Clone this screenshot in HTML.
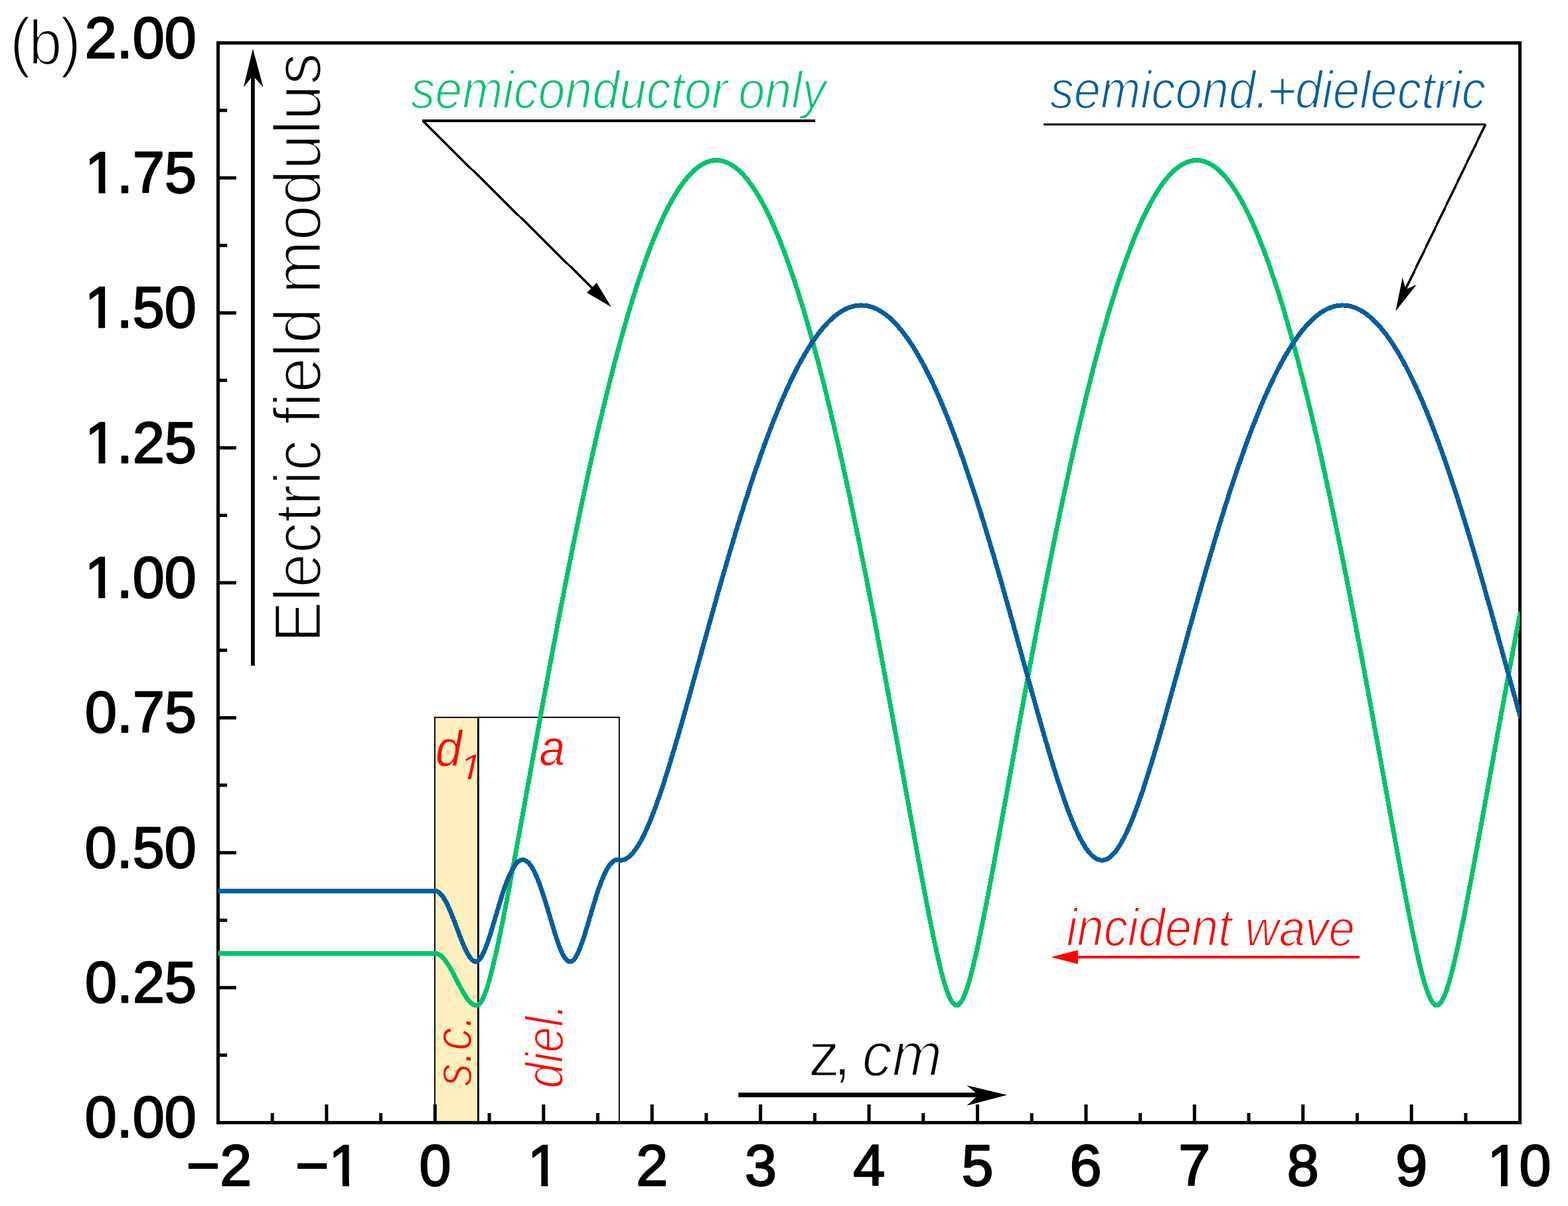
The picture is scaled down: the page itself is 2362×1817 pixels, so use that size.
<!DOCTYPE html>
<html lang="en"><head><meta charset="utf-8"><title>Electric field modulus</title>
<style>
html,body{margin:0;padding:0;background:#fff;overflow:hidden;}
body{width:2362px;height:1817px;overflow:hidden;}
svg{display:block;}
text{font-family:"Liberation Sans",sans-serif;}
</style></head><body>
<svg width="2362" height="1817" viewBox="0 0 2362 1817">
<rect x="0" y="0" width="2362" height="1817" fill="#ffffff"/>
<rect x="655" y="1080.8" width="65.4" height="610.6" fill="#ffefbe" stroke="#000" stroke-width="1.9"/>
<g><text transform="translate(655.9,1153.78) scale(0.9314,1)" font-size="76.8" fill="#ff0000" stroke="#ffefbe" stroke-width="1" stroke-linejoin="round" paint-order="fill stroke" font-style="italic">d</text><clipPath id="cd1"><path d="M-78.34,-4.36 L235.03,-4.36 L235.03,-78.34 L-78.34,-78.34ZM9.99,4 L14.72,4 L16.35,-4.36 L11.62,-4.36ZM27.16,15.67 L235.03,15.67 L235.03,-4.36 L27.16,-4.36Z"/></clipPath><text transform="translate(692.45,1173.55) scale(1.1221,1)" font-size="53.48" fill="#ff0000" stroke="#ffefbe" stroke-width="0.7" stroke-linejoin="round" paint-order="fill stroke" font-style="italic" clip-path="url(#cd1)">1</text></g>
<g><text transform="translate(710,1636.75) rotate(-90) scale(0.8781,1)" font-size="78.92" fill="#ff0000" stroke="#ffefbe" stroke-width="2.05" stroke-linejoin="round" paint-order="fill stroke" font-style="italic">s.c.</text></g>
<g fill="none" stroke="#000">
<path stroke-width="1.9" d="M720.4,1080.8 H932.8 V1691.4"/>
<path stroke-width="2.8" d="M720.4,1079.85 V1691.4"/>
</g>
<g stroke="#000" stroke-width="5" fill="none">
<path d="M410.21,1691.4 v-14.4 M491.92,1691.4 v-27.3 M573.64,1691.4 v-14.4 M655.35,1691.4 v-27.3 M737.06,1691.4 v-14.4 M818.77,1691.4 v-27.3 M900.49,1691.4 v-14.4 M982.2,1691.4 v-27.3 M1063.91,1691.4 v-14.4 M1145.62,1691.4 v-27.3 M1227.34,1691.4 v-14.4 M1309.05,1691.4 v-27.3 M1390.76,1691.4 v-14.4 M1472.47,1691.4 v-27.3 M1554.19,1691.4 v-14.4 M1635.9,1691.4 v-27.3 M1717.61,1691.4 v-14.4 M1799.32,1691.4 v-27.3 M1881.04,1691.4 v-14.4 M1962.75,1691.4 v-27.3 M2044.46,1691.4 v-14.4 M2126.18,1691.4 v-27.3 M2207.89,1691.4 v-14.4 M328.5,1589.73 h13.6 M328.5,1488.06 h27.3 M328.5,1386.39 h13.6 M328.5,1284.73 h27.3 M328.5,1183.06 h13.6 M328.5,1081.39 h27.3 M328.5,979.72 h13.6 M328.5,878.05 h27.3 M328.5,776.38 h13.6 M328.5,674.71 h27.3 M328.5,573.04 h13.6 M328.5,471.38 h27.3 M328.5,369.71 h13.6 M328.5,268.04 h27.3 M328.5,166.37 h13.6"/>
<rect x="328.5" y="64.7" width="1961.1" height="1626.7" stroke-width="5"/>
</g>
<clipPath id="plot"><rect x="328.5" y="64.7" width="1961.1" height="1626.7"/></clipPath>
<g fill="none" stroke-linejoin="round" stroke-linecap="square" stroke-width="7" shape-rendering="crispEdges" clip-path="url(#plot)">
<path stroke="#00c46b" d="M328.50,1436.50 L329.90,1436.50 L331.30,1436.50 L332.70,1436.50 L334.10,1436.50 L335.50,1436.50 L336.90,1436.50 L338.31,1436.50 L339.71,1436.50 L341.11,1436.50 L342.51,1436.50 L343.91,1436.50 L345.31,1436.50 L346.71,1436.50 L348.11,1436.50 L349.51,1436.50 L350.91,1436.50 L352.31,1436.50 L353.71,1436.50 L355.11,1436.50 L356.52,1436.50 L357.92,1436.50 L359.32,1436.50 L360.72,1436.50 L362.12,1436.50 L363.52,1436.50 L364.92,1436.50 L366.32,1436.50 L367.72,1436.50 L369.12,1436.50 L370.52,1436.50 L371.92,1436.50 L373.33,1436.50 L374.73,1436.50 L376.13,1436.50 L377.53,1436.50 L378.93,1436.50 L380.33,1436.50 L381.73,1436.50 L383.13,1436.50 L384.53,1436.50 L385.93,1436.50 L387.33,1436.50 L388.73,1436.50 L390.13,1436.50 L391.54,1436.50 L392.94,1436.50 L394.34,1436.50 L395.74,1436.50 L397.14,1436.50 L398.54,1436.50 L399.94,1436.50 L401.34,1436.50 L402.74,1436.50 L404.14,1436.50 L405.54,1436.50 L406.94,1436.50 L408.34,1436.50 L409.75,1436.50 L411.15,1436.50 L412.55,1436.50 L413.95,1436.50 L415.35,1436.50 L416.75,1436.50 L418.15,1436.50 L419.55,1436.50 L420.95,1436.50 L422.35,1436.50 L423.75,1436.50 L425.15,1436.50 L426.56,1436.50 L427.96,1436.50 L429.36,1436.50 L430.76,1436.50 L432.16,1436.50 L433.56,1436.50 L434.96,1436.50 L436.36,1436.50 L437.76,1436.50 L439.16,1436.50 L440.56,1436.50 L441.96,1436.50 L443.36,1436.50 L444.77,1436.50 L446.17,1436.50 L447.57,1436.50 L448.97,1436.50 L450.37,1436.50 L451.77,1436.50 L453.17,1436.50 L454.57,1436.50 L455.97,1436.50 L457.37,1436.50 L458.77,1436.50 L460.17,1436.50 L461.57,1436.50 L462.98,1436.50 L464.38,1436.50 L465.78,1436.50 L467.18,1436.50 L468.58,1436.50 L469.98,1436.50 L471.38,1436.50 L472.78,1436.50 L474.18,1436.50 L475.58,1436.50 L476.98,1436.50 L478.38,1436.50 L479.78,1436.50 L481.19,1436.50 L482.59,1436.50 L483.99,1436.50 L485.39,1436.50 L486.79,1436.50 L488.19,1436.50 L489.59,1436.50 L490.99,1436.50 L492.39,1436.50 L493.79,1436.50 L495.19,1436.50 L496.59,1436.50 L498.00,1436.50 L499.40,1436.50 L500.80,1436.50 L502.20,1436.50 L503.60,1436.50 L505.00,1436.50 L506.40,1436.50 L507.80,1436.50 L509.20,1436.50 L510.60,1436.50 L512.00,1436.50 L513.40,1436.50 L514.80,1436.50 L516.21,1436.50 L517.61,1436.50 L519.01,1436.50 L520.41,1436.50 L521.81,1436.50 L523.21,1436.50 L524.61,1436.50 L526.01,1436.50 L527.41,1436.50 L528.81,1436.50 L530.21,1436.50 L531.61,1436.50 L533.01,1436.50 L534.42,1436.50 L535.82,1436.50 L537.22,1436.50 L538.62,1436.50 L540.02,1436.50 L541.42,1436.50 L542.82,1436.50 L544.22,1436.50 L545.62,1436.50 L547.02,1436.50 L548.42,1436.50 L549.82,1436.50 L551.22,1436.50 L552.63,1436.50 L554.03,1436.50 L555.43,1436.50 L556.83,1436.50 L558.23,1436.50 L559.63,1436.50 L561.03,1436.50 L562.43,1436.50 L563.83,1436.50 L565.23,1436.50 L566.63,1436.50 L568.03,1436.50 L569.44,1436.50 L570.84,1436.50 L572.24,1436.50 L573.64,1436.50 L575.04,1436.50 L576.44,1436.50 L577.84,1436.50 L579.24,1436.50 L580.64,1436.50 L582.04,1436.50 L583.44,1436.50 L584.84,1436.50 L586.24,1436.50 L587.65,1436.50 L589.05,1436.50 L590.45,1436.50 L591.85,1436.50 L593.25,1436.50 L594.65,1436.50 L596.05,1436.50 L597.45,1436.50 L598.85,1436.50 L600.25,1436.50 L601.65,1436.50 L603.05,1436.50 L604.45,1436.50 L605.86,1436.50 L607.26,1436.50 L608.66,1436.50 L610.06,1436.50 L611.46,1436.50 L612.86,1436.50 L614.26,1436.50 L615.66,1436.50 L617.06,1436.50 L618.46,1436.50 L619.86,1436.50 L621.26,1436.50 L622.66,1436.50 L624.07,1436.50 L625.47,1436.50 L626.87,1436.50 L628.27,1436.50 L629.67,1436.50 L631.07,1436.50 L632.47,1436.50 L633.87,1436.50 L635.27,1436.50 L636.67,1436.50 L638.07,1436.50 L639.47,1436.50 L640.88,1436.50 L642.28,1436.50 L643.68,1436.50 L645.08,1436.50 L646.48,1436.50 L647.88,1436.50 L649.28,1436.50 L650.68,1436.50 L652.08,1436.50 L653.48,1436.50 L654.88,1436.50 L655.35,1436.50 L656.28,1436.54 L657.68,1436.75 L659.09,1437.14 L660.49,1437.72 L661.89,1438.47 L663.29,1439.40 L664.69,1440.49 L666.09,1441.75 L667.49,1443.17 L668.89,1444.74 L670.29,1446.46 L671.69,1448.32 L673.09,1450.31 L674.49,1452.41 L675.89,1454.64 L677.30,1456.96 L678.70,1459.37 L680.10,1461.86 L681.50,1464.43 L682.90,1467.05 L684.30,1469.71 L685.70,1472.41 L687.10,1475.13 L688.50,1477.86 L689.90,1480.58 L691.30,1483.29 L692.70,1485.96 L694.11,1488.59 L695.51,1491.17 L696.91,1493.67 L698.31,1496.10 L699.71,1498.43 L701.11,1500.65 L702.51,1502.75 L703.91,1504.73 L705.31,1506.56 L706.71,1508.23 L708.11,1509.74 L709.51,1511.06 L710.91,1512.19 L712.32,1513.12 L713.72,1513.82 L715.12,1514.27 L716.31,1514.42 L716.52,1514.44 L717.92,1514.57 L719.32,1514.26 L720.72,1513.52 L722.12,1512.35 L723.52,1510.77 L724.92,1508.78 L726.32,1506.39 L727.72,1503.63 L729.12,1500.52 L730.53,1497.05 L731.93,1493.27 L733.33,1489.17 L734.73,1484.80 L736.13,1480.15 L737.53,1475.25 L738.93,1470.12 L740.33,1464.77 L741.73,1459.23 L743.13,1453.49 L744.53,1447.59 L745.93,1441.52 L747.33,1435.31 L748.74,1428.97 L750.14,1422.49 L751.54,1415.91 L752.94,1409.22 L754.34,1402.42 L755.74,1395.54 L757.14,1388.58 L758.54,1381.54 L759.94,1374.43 L761.34,1367.25 L762.74,1360.02 L764.14,1352.73 L765.55,1345.39 L766.95,1338.00 L768.35,1330.58 L769.75,1323.11 L771.15,1315.61 L772.55,1308.08 L773.95,1300.51 L775.35,1292.93 L776.75,1285.31 L778.15,1277.68 L779.55,1270.03 L780.95,1262.36 L782.35,1254.67 L783.76,1246.98 L785.16,1239.27 L786.56,1231.55 L787.96,1223.82 L789.36,1216.09 L790.76,1208.35 L792.16,1200.61 L793.56,1192.87 L794.96,1185.12 L796.36,1177.38 L797.76,1169.63 L799.16,1161.89 L800.56,1154.15 L801.97,1146.42 L803.37,1138.69 L804.77,1130.97 L806.17,1123.25 L807.57,1115.54 L808.97,1107.84 L810.37,1100.15 L811.77,1092.47 L813.17,1084.80 L814.57,1077.14 L815.97,1069.50 L817.37,1061.86 L818.77,1054.24 L820.18,1046.64 L821.58,1039.05 L822.98,1031.47 L824.38,1023.91 L825.78,1016.37 L827.18,1008.85 L828.58,1001.34 L829.98,993.85 L831.38,986.38 L832.78,978.93 L834.18,971.49 L835.58,964.08 L836.99,956.69 L838.39,949.32 L839.79,941.97 L841.19,934.64 L842.59,927.34 L843.99,920.06 L845.39,912.80 L846.79,905.56 L848.19,898.35 L849.59,891.17 L850.99,884.00 L852.39,876.87 L853.79,869.76 L855.20,862.67 L856.60,855.61 L858.00,848.58 L859.40,841.58 L860.80,834.60 L862.20,827.65 L863.60,820.73 L865.00,813.84 L866.40,806.98 L867.80,800.14 L869.20,793.34 L870.60,786.56 L872.00,779.82 L873.41,773.11 L874.81,766.42 L876.21,759.77 L877.61,753.15 L879.01,746.56 L880.41,740.00 L881.81,733.48 L883.21,726.99 L884.61,720.53 L886.01,714.11 L887.41,707.71 L888.81,701.36 L890.22,695.03 L891.62,688.74 L893.02,682.49 L894.42,676.27 L895.82,670.09 L897.22,663.94 L898.62,657.82 L900.02,651.75 L901.42,645.71 L902.82,639.70 L904.22,633.73 L905.62,627.80 L907.02,621.91 L908.43,616.06 L909.83,610.24 L911.23,604.46 L912.63,598.72 L914.03,593.02 L915.43,587.35 L916.83,581.73 L918.23,576.14 L919.63,570.60 L921.03,565.09 L922.43,559.63 L923.83,554.20 L925.23,548.82 L926.64,543.47 L928.04,538.17 L929.44,532.91 L930.84,527.68 L932.24,522.50 L933.17,519.07 L933.64,517.37 L935.04,512.27 L936.44,507.22 L937.84,502.21 L939.24,497.24 L940.64,492.31 L942.04,487.43 L943.44,482.59 L944.85,477.79 L946.25,473.04 L947.65,468.33 L949.05,463.66 L950.45,459.04 L951.85,454.46 L953.25,449.93 L954.65,445.44 L956.05,441.00 L957.45,436.60 L958.85,432.25 L960.25,427.94 L961.66,423.68 L963.06,419.47 L964.46,415.30 L965.86,411.17 L967.26,407.09 L968.66,403.06 L970.06,399.08 L971.46,395.14 L972.86,391.25 L974.26,387.41 L975.66,383.61 L977.06,379.86 L978.46,376.16 L979.87,372.50 L981.27,368.89 L982.67,365.34 L984.07,361.82 L985.47,358.36 L986.87,354.95 L988.27,351.58 L989.67,348.26 L991.07,345.00 L992.47,341.78 L993.87,338.60 L995.27,335.48 L996.67,332.41 L998.08,329.39 L999.48,326.41 L1000.88,323.49 L1002.28,320.61 L1003.68,317.79 L1005.08,315.02 L1006.48,312.29 L1007.88,309.62 L1009.28,306.99 L1010.68,304.42 L1012.08,301.89 L1013.48,299.42 L1014.89,297.00 L1016.29,294.63 L1017.69,292.30 L1019.09,290.03 L1020.49,287.82 L1021.89,285.65 L1023.29,283.53 L1024.69,281.46 L1026.09,279.45 L1027.49,277.49 L1028.89,275.58 L1030.29,273.72 L1031.69,271.91 L1033.10,270.15 L1034.50,268.45 L1035.90,266.79 L1037.30,265.19 L1038.70,263.64 L1040.10,262.15 L1041.50,260.70 L1042.90,259.31 L1044.30,257.97 L1045.70,256.68 L1047.10,255.44 L1048.50,254.26 L1049.90,253.13 L1051.31,252.05 L1052.71,251.02 L1054.11,250.05 L1055.51,249.12 L1056.91,248.26 L1058.31,247.44 L1059.71,246.68 L1061.11,245.96 L1062.51,245.31 L1063.91,244.70 L1065.31,244.15 L1066.71,243.65 L1068.11,243.20 L1069.52,242.81 L1070.92,242.46 L1072.32,242.17 L1073.72,241.94 L1075.12,241.75 L1076.52,241.62 L1077.92,241.55 L1079.32,241.52 L1080.72,241.55 L1082.12,241.63 L1083.52,241.77 L1084.92,241.95 L1086.33,242.19 L1087.73,242.48 L1089.13,242.83 L1090.53,243.23 L1091.93,243.68 L1093.33,244.18 L1094.73,244.74 L1096.13,245.35 L1097.53,246.01 L1098.93,246.72 L1100.33,247.49 L1101.73,248.31 L1103.13,249.18 L1104.54,250.11 L1105.94,251.09 L1107.34,252.12 L1108.74,253.20 L1110.14,254.34 L1111.54,255.52 L1112.94,256.76 L1114.34,258.05 L1115.74,259.40 L1117.14,260.80 L1118.54,262.24 L1119.94,263.74 L1121.34,265.30 L1122.75,266.90 L1124.15,268.56 L1125.55,270.27 L1126.95,272.03 L1128.35,273.84 L1129.75,275.70 L1131.15,277.62 L1132.55,279.58 L1133.95,281.60 L1135.35,283.67 L1136.75,285.79 L1138.15,287.96 L1139.55,290.18 L1140.96,292.46 L1142.36,294.78 L1143.76,297.16 L1145.16,299.58 L1146.56,302.06 L1147.96,304.59 L1149.36,307.16 L1150.76,309.79 L1152.16,312.47 L1153.56,315.20 L1154.96,317.98 L1156.36,320.80 L1157.77,323.68 L1159.17,326.61 L1160.57,329.59 L1161.97,332.61 L1163.37,335.69 L1164.77,338.81 L1166.17,341.99 L1167.57,345.21 L1168.97,348.48 L1170.37,351.80 L1171.77,355.17 L1173.17,358.59 L1174.57,362.06 L1175.98,365.57 L1177.38,369.13 L1178.78,372.74 L1180.18,376.40 L1181.58,380.11 L1182.98,383.86 L1184.38,387.66 L1185.78,391.51 L1187.18,395.40 L1188.58,399.34 L1189.98,403.33 L1191.38,407.37 L1192.78,411.45 L1194.19,415.57 L1195.59,419.75 L1196.99,423.97 L1198.39,428.23 L1199.79,432.54 L1201.19,436.90 L1202.59,441.30 L1203.99,445.74 L1205.39,450.23 L1206.79,454.77 L1208.19,459.35 L1209.59,463.97 L1210.99,468.64 L1212.40,473.35 L1213.80,478.11 L1215.20,482.91 L1216.60,487.75 L1218.00,492.64 L1219.40,497.57 L1220.80,502.54 L1222.20,507.55 L1223.60,512.61 L1225.00,517.71 L1226.40,522.85 L1227.80,528.03 L1229.21,533.25 L1230.61,538.52 L1232.01,543.83 L1233.41,549.17 L1234.81,554.56 L1236.21,559.99 L1237.61,565.46 L1239.01,570.97 L1240.41,576.52 L1241.81,582.10 L1243.21,587.73 L1244.61,593.40 L1246.01,599.10 L1247.42,604.84 L1248.82,610.63 L1250.22,616.45 L1251.62,622.30 L1253.02,628.20 L1254.42,634.13 L1255.82,640.10 L1257.22,646.11 L1258.62,652.15 L1260.02,658.23 L1261.42,664.35 L1262.82,670.50 L1264.22,676.68 L1265.63,682.90 L1267.03,689.16 L1268.43,695.45 L1269.83,701.78 L1271.23,708.14 L1272.63,714.53 L1274.03,720.96 L1275.43,727.42 L1276.83,733.91 L1278.23,740.44 L1279.63,747.00 L1281.03,753.59 L1282.44,760.21 L1283.84,766.87 L1285.24,773.55 L1286.64,780.27 L1288.04,787.01 L1289.44,793.79 L1290.84,800.60 L1292.24,807.43 L1293.64,814.30 L1295.04,821.19 L1296.44,828.12 L1297.84,835.07 L1299.24,842.05 L1300.65,849.05 L1302.05,856.08 L1303.45,863.14 L1304.85,870.23 L1306.25,877.34 L1307.65,884.48 L1309.05,891.64 L1310.45,898.83 L1311.85,906.04 L1313.25,913.28 L1314.65,920.54 L1316.05,927.82 L1317.45,935.13 L1318.86,942.46 L1320.26,949.81 L1321.66,957.18 L1323.06,964.57 L1324.46,971.99 L1325.86,979.42 L1327.26,986.88 L1328.66,994.35 L1330.06,1001.84 L1331.46,1009.35 L1332.86,1016.87 L1334.26,1024.42 L1335.66,1031.98 L1337.07,1039.55 L1338.47,1047.15 L1339.87,1054.75 L1341.27,1062.37 L1342.67,1070.01 L1344.07,1077.65 L1345.47,1085.31 L1346.87,1092.98 L1348.27,1100.66 L1349.67,1108.35 L1351.07,1116.06 L1352.47,1123.76 L1353.88,1131.48 L1355.28,1139.21 L1356.68,1146.93 L1358.08,1154.67 L1359.48,1162.41 L1360.88,1170.15 L1362.28,1177.89 L1363.68,1185.64 L1365.08,1193.38 L1366.48,1201.13 L1367.88,1208.87 L1369.28,1216.61 L1370.68,1224.34 L1372.09,1232.07 L1373.49,1239.78 L1374.89,1247.49 L1376.29,1255.19 L1377.69,1262.87 L1379.09,1270.54 L1380.49,1278.19 L1381.89,1285.82 L1383.29,1293.43 L1384.69,1301.02 L1386.09,1308.58 L1387.49,1316.11 L1388.89,1323.61 L1390.30,1331.07 L1391.70,1338.50 L1393.10,1345.88 L1394.50,1353.22 L1395.90,1360.50 L1397.30,1367.73 L1398.70,1374.91 L1400.10,1382.01 L1401.50,1389.05 L1402.90,1396.01 L1404.30,1402.88 L1405.70,1409.66 L1407.10,1416.35 L1408.51,1422.93 L1409.91,1429.39 L1411.31,1435.73 L1412.71,1441.93 L1414.11,1447.99 L1415.51,1453.88 L1416.91,1459.60 L1418.31,1465.14 L1419.71,1470.47 L1421.11,1475.58 L1422.51,1480.47 L1423.91,1485.10 L1425.32,1489.46 L1426.72,1493.53 L1428.12,1497.29 L1429.52,1500.73 L1430.92,1503.83 L1432.32,1506.56 L1433.72,1508.92 L1435.12,1510.88 L1436.52,1512.44 L1437.92,1513.58 L1439.32,1514.29 L1440.72,1514.57 L1442.12,1514.42 L1443.53,1513.84 L1444.93,1512.83 L1446.33,1511.39 L1447.73,1509.55 L1449.13,1507.31 L1450.53,1504.69 L1451.93,1501.70 L1453.33,1498.36 L1454.73,1494.69 L1456.13,1490.71 L1457.53,1486.43 L1458.93,1481.88 L1460.33,1477.07 L1461.74,1472.03 L1463.14,1466.76 L1464.54,1461.28 L1465.94,1455.62 L1467.34,1449.77 L1468.74,1443.76 L1470.14,1437.61 L1471.54,1431.31 L1472.94,1424.88 L1474.34,1418.34 L1475.74,1411.68 L1477.14,1404.93 L1478.55,1398.08 L1479.95,1391.14 L1481.35,1384.13 L1482.75,1377.04 L1484.15,1369.89 L1485.55,1362.68 L1486.95,1355.41 L1488.35,1348.09 L1489.75,1340.72 L1491.15,1333.31 L1492.55,1325.85 L1493.95,1318.36 L1495.35,1310.84 L1496.76,1303.29 L1498.16,1295.71 L1499.56,1288.11 L1500.96,1280.48 L1502.36,1272.84 L1503.76,1265.17 L1505.16,1257.49 L1506.56,1249.80 L1507.96,1242.10 L1509.36,1234.38 L1510.76,1226.66 L1512.16,1218.93 L1513.56,1211.19 L1514.97,1203.45 L1516.37,1195.71 L1517.77,1187.96 L1519.17,1180.22 L1520.57,1172.47 L1521.97,1164.73 L1523.37,1156.99 L1524.77,1149.25 L1526.17,1141.52 L1527.57,1133.80 L1528.97,1126.08 L1530.37,1118.37 L1531.77,1110.66 L1533.18,1102.97 L1534.58,1095.29 L1535.98,1087.61 L1537.38,1079.95 L1538.78,1072.30 L1540.18,1064.66 L1541.58,1057.04 L1542.98,1049.43 L1544.38,1041.83 L1545.78,1034.25 L1547.18,1026.68 L1548.58,1019.14 L1549.99,1011.60 L1551.39,1004.09 L1552.79,996.59 L1554.19,989.11 L1555.59,981.66 L1556.99,974.22 L1558.39,966.80 L1559.79,959.40 L1561.19,952.02 L1562.59,944.66 L1563.99,937.33 L1565.39,930.01 L1566.79,922.72 L1568.20,915.46 L1569.60,908.21 L1571.00,900.99 L1572.40,893.80 L1573.80,886.63 L1575.20,879.48 L1576.60,872.36 L1578.00,865.27 L1579.40,858.20 L1580.80,851.16 L1582.20,844.14 L1583.60,837.16 L1585.00,830.20 L1586.41,823.27 L1587.81,816.36 L1589.21,809.49 L1590.61,802.65 L1592.01,795.83 L1593.41,789.04 L1594.81,782.29 L1596.21,775.56 L1597.61,768.87 L1599.01,762.21 L1600.41,755.57 L1601.81,748.97 L1603.21,742.41 L1604.62,735.87 L1606.02,729.37 L1607.42,722.90 L1608.82,716.46 L1610.22,710.05 L1611.62,703.68 L1613.02,697.35 L1614.42,691.05 L1615.82,684.78 L1617.22,678.55 L1618.62,672.35 L1620.02,666.19 L1621.43,660.06 L1622.83,653.97 L1624.23,647.92 L1625.63,641.90 L1627.03,635.92 L1628.43,629.97 L1629.83,624.07 L1631.23,618.20 L1632.63,612.37 L1634.03,606.57 L1635.43,600.82 L1636.83,595.10 L1638.23,589.43 L1639.64,583.79 L1641.04,578.19 L1642.44,572.63 L1643.84,567.11 L1645.24,561.63 L1646.64,556.19 L1648.04,550.79 L1649.44,545.43 L1650.84,540.11 L1652.24,534.83 L1653.64,529.59 L1655.04,524.40 L1656.44,519.25 L1657.85,514.13 L1659.25,509.06 L1660.65,504.04 L1662.05,499.05 L1663.45,494.11 L1664.85,489.21 L1666.25,484.36 L1667.65,479.54 L1669.05,474.78 L1670.45,470.05 L1671.85,465.37 L1673.25,460.73 L1674.66,456.14 L1676.06,451.59 L1677.46,447.08 L1678.86,442.63 L1680.26,438.21 L1681.66,433.84 L1683.06,429.52 L1684.46,425.24 L1685.86,421.01 L1687.26,416.82 L1688.66,412.68 L1690.06,408.58 L1691.46,404.54 L1692.87,400.53 L1694.27,396.58 L1695.67,392.67 L1697.07,388.81 L1698.47,384.99 L1699.87,381.23 L1701.27,377.51 L1702.67,373.84 L1704.07,370.21 L1705.47,366.64 L1706.87,363.11 L1708.27,359.63 L1709.67,356.19 L1711.08,352.81 L1712.48,349.47 L1713.88,346.19 L1715.28,342.95 L1716.68,339.76 L1718.08,336.62 L1719.48,333.53 L1720.88,330.49 L1722.28,327.50 L1723.68,324.56 L1725.08,321.66 L1726.48,318.82 L1727.88,316.03 L1729.29,313.28 L1730.69,310.59 L1732.09,307.95 L1733.49,305.36 L1734.89,302.81 L1736.29,300.32 L1737.69,297.88 L1739.09,295.49 L1740.49,293.15 L1741.89,290.86 L1743.29,288.62 L1744.69,286.44 L1746.10,284.30 L1747.50,282.22 L1748.90,280.18 L1750.30,278.20 L1751.70,276.27 L1753.10,274.39 L1754.50,272.56 L1755.90,270.79 L1757.30,269.07 L1758.70,267.39 L1760.10,265.77 L1761.50,264.20 L1762.90,262.69 L1764.31,261.22 L1765.71,259.81 L1767.11,258.45 L1768.51,257.14 L1769.91,255.89 L1771.31,254.69 L1772.71,253.54 L1774.11,252.44 L1775.51,251.39 L1776.91,250.40 L1778.31,249.46 L1779.71,248.57 L1781.11,247.73 L1782.52,246.95 L1783.92,246.22 L1785.32,245.54 L1786.72,244.92 L1788.12,244.34 L1789.52,243.82 L1790.92,243.36 L1792.32,242.94 L1793.72,242.58 L1795.12,242.27 L1796.52,242.02 L1797.92,241.82 L1799.32,241.67 L1800.73,241.57 L1802.13,241.53 L1803.53,241.53 L1804.93,241.60 L1806.33,241.71 L1807.73,241.88 L1809.13,242.10 L1810.53,242.37 L1811.93,242.70 L1813.33,243.08 L1814.73,243.51 L1816.13,243.99 L1817.54,244.53 L1818.94,245.12 L1820.34,245.76 L1821.74,246.46 L1823.14,247.20 L1824.54,248.01 L1825.94,248.86 L1827.34,249.76 L1828.74,250.72 L1830.14,251.73 L1831.54,252.80 L1832.94,253.91 L1834.34,255.08 L1835.75,256.30 L1837.15,257.57 L1838.55,258.90 L1839.95,260.28 L1841.35,261.71 L1842.75,263.19 L1844.15,264.72 L1845.55,266.31 L1846.95,267.94 L1848.35,269.63 L1849.75,271.38 L1851.15,273.17 L1852.55,275.01 L1853.96,276.91 L1855.36,278.86 L1856.76,280.86 L1858.16,282.91 L1859.56,285.01 L1860.96,287.16 L1862.36,289.36 L1863.76,291.62 L1865.16,293.92 L1866.56,296.28 L1867.96,298.69 L1869.36,301.15 L1870.77,303.65 L1872.17,306.21 L1873.57,308.82 L1874.97,311.48 L1876.37,314.19 L1877.77,316.95 L1879.17,319.76 L1880.57,322.62 L1881.97,325.53 L1883.37,328.49 L1884.77,331.50 L1886.17,334.56 L1887.57,337.66 L1888.98,340.82 L1890.38,344.02 L1891.78,347.28 L1893.18,350.58 L1894.58,353.93 L1895.98,357.33 L1897.38,360.78 L1898.78,364.28 L1900.18,367.82 L1901.58,371.41 L1902.98,375.05 L1904.38,378.74 L1905.78,382.48 L1907.19,386.26 L1908.59,390.09 L1909.99,393.97 L1911.39,397.89 L1912.79,401.86 L1914.19,405.88 L1915.59,409.94 L1916.99,414.05 L1918.39,418.21 L1919.79,422.41 L1921.19,426.66 L1922.59,430.95 L1923.99,435.29 L1925.40,439.68 L1926.80,444.11 L1928.20,448.58 L1929.60,453.10 L1931.00,457.66 L1932.40,462.27 L1933.80,466.92 L1935.20,471.62 L1936.60,476.36 L1938.00,481.14 L1939.40,485.97 L1940.80,490.84 L1942.21,495.75 L1943.61,500.71 L1945.01,505.71 L1946.41,510.75 L1947.81,515.83 L1949.21,520.96 L1950.61,526.13 L1952.01,531.33 L1953.41,536.58 L1954.81,541.88 L1956.21,547.21 L1957.61,552.58 L1959.01,557.99 L1960.42,563.45 L1961.82,568.94 L1963.22,574.48 L1964.62,580.05 L1966.02,585.66 L1967.42,591.31 L1968.82,597.00 L1970.22,602.73 L1971.62,608.50 L1973.02,614.31 L1974.42,620.15 L1975.82,626.03 L1977.22,631.95 L1978.63,637.91 L1980.03,643.90 L1981.43,649.93 L1982.83,656.00 L1984.23,662.10 L1985.63,668.24 L1987.03,674.41 L1988.43,680.62 L1989.83,686.86 L1991.23,693.14 L1992.63,699.46 L1994.03,705.80 L1995.43,712.18 L1996.84,718.60 L1998.24,725.05 L1999.64,731.53 L2001.04,738.04 L2002.44,744.59 L2003.84,751.17 L2005.24,757.78 L2006.64,764.42 L2008.04,771.10 L2009.44,777.80 L2010.84,784.54 L2012.24,791.30 L2013.65,798.10 L2015.05,804.92 L2016.45,811.78 L2017.85,818.66 L2019.25,825.57 L2020.65,832.51 L2022.05,839.48 L2023.45,846.48 L2024.85,853.50 L2026.25,860.55 L2027.65,867.63 L2029.05,874.73 L2030.45,881.86 L2031.86,889.01 L2033.26,896.19 L2034.66,903.40 L2036.06,910.62 L2037.46,917.88 L2038.86,925.15 L2040.26,932.45 L2041.66,939.77 L2043.06,947.11 L2044.46,954.48 L2045.86,961.86 L2047.26,969.27 L2048.66,976.69 L2050.07,984.14 L2051.47,991.61 L2052.87,999.09 L2054.27,1006.59 L2055.67,1014.11 L2057.07,1021.65 L2058.47,1029.20 L2059.87,1036.77 L2061.27,1044.36 L2062.67,1051.96 L2064.07,1059.58 L2065.47,1067.21 L2066.88,1074.85 L2068.28,1082.50 L2069.68,1090.17 L2071.08,1097.85 L2072.48,1105.53 L2073.88,1113.23 L2075.28,1120.94 L2076.68,1128.65 L2078.08,1136.37 L2079.48,1144.10 L2080.88,1151.83 L2082.28,1159.57 L2083.68,1167.31 L2085.09,1175.05 L2086.49,1182.80 L2087.89,1190.54 L2089.29,1198.29 L2090.69,1206.03 L2092.09,1213.77 L2093.49,1221.51 L2094.89,1229.23 L2096.29,1236.95 L2097.69,1244.67 L2099.09,1252.37 L2100.49,1260.06 L2101.89,1267.73 L2103.30,1275.39 L2104.70,1283.03 L2106.10,1290.65 L2107.50,1298.24 L2108.90,1305.81 L2110.30,1313.35 L2111.70,1320.86 L2113.10,1328.34 L2114.50,1335.78 L2115.90,1343.18 L2117.30,1350.53 L2118.70,1357.84 L2120.10,1365.09 L2121.51,1372.28 L2122.91,1379.41 L2124.31,1386.48 L2125.71,1393.46 L2127.11,1400.37 L2128.51,1407.19 L2129.91,1413.91 L2131.31,1420.53 L2132.71,1427.04 L2134.11,1433.42 L2135.51,1439.68 L2136.91,1445.78 L2138.32,1451.74 L2139.72,1457.53 L2141.12,1463.13 L2142.52,1468.54 L2143.92,1473.74 L2145.32,1478.70 L2146.72,1483.43 L2148.12,1487.89 L2149.52,1492.07 L2150.92,1495.95 L2152.32,1499.51 L2153.72,1502.74 L2155.12,1505.61 L2156.53,1508.10 L2157.93,1510.21 L2159.33,1511.92 L2160.73,1513.21 L2162.13,1514.08 L2163.53,1514.52 L2164.93,1514.53 L2166.33,1514.10 L2167.73,1513.25 L2169.13,1511.97 L2170.53,1510.27 L2171.93,1508.18 L2173.33,1505.69 L2174.74,1502.84 L2176.14,1499.62 L2177.54,1496.07 L2178.94,1492.20 L2180.34,1488.03 L2181.74,1483.58 L2183.14,1478.87 L2184.54,1473.90 L2185.94,1468.72 L2187.34,1463.31 L2188.74,1457.72 L2190.14,1451.93 L2191.55,1445.99 L2192.95,1439.88 L2194.35,1433.63 L2195.75,1427.25 L2197.15,1420.75 L2198.55,1414.13 L2199.95,1407.41 L2201.35,1400.60 L2202.75,1393.69 L2204.15,1386.71 L2205.55,1379.65 L2206.95,1372.52 L2208.35,1365.33 L2209.76,1358.08 L2211.16,1350.78 L2212.56,1343.42 L2213.96,1336.03 L2215.36,1328.59 L2216.76,1321.11 L2218.16,1313.60 L2219.56,1306.06 L2220.96,1298.49 L2222.36,1290.90 L2223.76,1283.28 L2225.16,1275.64 L2226.56,1267.98 L2227.97,1260.31 L2229.37,1252.62 L2230.77,1244.92 L2232.17,1237.21 L2233.57,1229.49 L2234.97,1221.76 L2236.37,1214.03 L2237.77,1206.29 L2239.17,1198.55 L2240.57,1190.80 L2241.97,1183.06 L2243.37,1175.31 L2244.77,1167.57 L2246.18,1159.83 L2247.58,1152.09 L2248.98,1144.36 L2250.38,1136.63 L2251.78,1128.91 L2253.18,1121.19 L2254.58,1113.49 L2255.98,1105.79 L2257.38,1098.10 L2258.78,1090.42 L2260.18,1082.76 L2261.58,1075.10 L2262.99,1067.46 L2264.39,1059.83 L2265.79,1052.22 L2267.19,1044.61 L2268.59,1037.03 L2269.99,1029.46 L2271.39,1021.90 L2272.79,1014.36 L2274.19,1006.84 L2275.59,999.34 L2276.99,991.85 L2278.39,984.39 L2279.79,976.94 L2281.20,969.51 L2282.60,962.11 L2284.00,954.72 L2285.40,947.36 L2286.80,940.01 L2288.20,932.69 L2289.60,925.39"/>
<path stroke="#005f9e" d="M328.50,1342.47 L329.90,1342.47 L331.30,1342.47 L332.70,1342.47 L334.10,1342.47 L335.50,1342.47 L336.90,1342.47 L338.31,1342.47 L339.71,1342.47 L341.11,1342.47 L342.51,1342.47 L343.91,1342.47 L345.31,1342.47 L346.71,1342.47 L348.11,1342.47 L349.51,1342.47 L350.91,1342.47 L352.31,1342.47 L353.71,1342.47 L355.11,1342.47 L356.52,1342.47 L357.92,1342.47 L359.32,1342.47 L360.72,1342.47 L362.12,1342.47 L363.52,1342.47 L364.92,1342.47 L366.32,1342.47 L367.72,1342.47 L369.12,1342.47 L370.52,1342.47 L371.92,1342.47 L373.33,1342.47 L374.73,1342.47 L376.13,1342.47 L377.53,1342.47 L378.93,1342.47 L380.33,1342.47 L381.73,1342.47 L383.13,1342.47 L384.53,1342.47 L385.93,1342.47 L387.33,1342.47 L388.73,1342.47 L390.13,1342.47 L391.54,1342.47 L392.94,1342.47 L394.34,1342.47 L395.74,1342.47 L397.14,1342.47 L398.54,1342.47 L399.94,1342.47 L401.34,1342.47 L402.74,1342.47 L404.14,1342.47 L405.54,1342.47 L406.94,1342.47 L408.34,1342.47 L409.75,1342.47 L411.15,1342.47 L412.55,1342.47 L413.95,1342.47 L415.35,1342.47 L416.75,1342.47 L418.15,1342.47 L419.55,1342.47 L420.95,1342.47 L422.35,1342.47 L423.75,1342.47 L425.15,1342.47 L426.56,1342.47 L427.96,1342.47 L429.36,1342.47 L430.76,1342.47 L432.16,1342.47 L433.56,1342.47 L434.96,1342.47 L436.36,1342.47 L437.76,1342.47 L439.16,1342.47 L440.56,1342.47 L441.96,1342.47 L443.36,1342.47 L444.77,1342.47 L446.17,1342.47 L447.57,1342.47 L448.97,1342.47 L450.37,1342.47 L451.77,1342.47 L453.17,1342.47 L454.57,1342.47 L455.97,1342.47 L457.37,1342.47 L458.77,1342.47 L460.17,1342.47 L461.57,1342.47 L462.98,1342.47 L464.38,1342.47 L465.78,1342.47 L467.18,1342.47 L468.58,1342.47 L469.98,1342.47 L471.38,1342.47 L472.78,1342.47 L474.18,1342.47 L475.58,1342.47 L476.98,1342.47 L478.38,1342.47 L479.78,1342.47 L481.19,1342.47 L482.59,1342.47 L483.99,1342.47 L485.39,1342.47 L486.79,1342.47 L488.19,1342.47 L489.59,1342.47 L490.99,1342.47 L492.39,1342.47 L493.79,1342.47 L495.19,1342.47 L496.59,1342.47 L498.00,1342.47 L499.40,1342.47 L500.80,1342.47 L502.20,1342.47 L503.60,1342.47 L505.00,1342.47 L506.40,1342.47 L507.80,1342.47 L509.20,1342.47 L510.60,1342.47 L512.00,1342.47 L513.40,1342.47 L514.80,1342.47 L516.21,1342.47 L517.61,1342.47 L519.01,1342.47 L520.41,1342.47 L521.81,1342.47 L523.21,1342.47 L524.61,1342.47 L526.01,1342.47 L527.41,1342.47 L528.81,1342.47 L530.21,1342.47 L531.61,1342.47 L533.01,1342.47 L534.42,1342.47 L535.82,1342.47 L537.22,1342.47 L538.62,1342.47 L540.02,1342.47 L541.42,1342.47 L542.82,1342.47 L544.22,1342.47 L545.62,1342.47 L547.02,1342.47 L548.42,1342.47 L549.82,1342.47 L551.22,1342.47 L552.63,1342.47 L554.03,1342.47 L555.43,1342.47 L556.83,1342.47 L558.23,1342.47 L559.63,1342.47 L561.03,1342.47 L562.43,1342.47 L563.83,1342.47 L565.23,1342.47 L566.63,1342.47 L568.03,1342.47 L569.44,1342.47 L570.84,1342.47 L572.24,1342.47 L573.64,1342.47 L575.04,1342.47 L576.44,1342.47 L577.84,1342.47 L579.24,1342.47 L580.64,1342.47 L582.04,1342.47 L583.44,1342.47 L584.84,1342.47 L586.24,1342.47 L587.65,1342.47 L589.05,1342.47 L590.45,1342.47 L591.85,1342.47 L593.25,1342.47 L594.65,1342.47 L596.05,1342.47 L597.45,1342.47 L598.85,1342.47 L600.25,1342.47 L601.65,1342.47 L603.05,1342.47 L604.45,1342.47 L605.86,1342.47 L607.26,1342.47 L608.66,1342.47 L610.06,1342.47 L611.46,1342.47 L612.86,1342.47 L614.26,1342.47 L615.66,1342.47 L617.06,1342.47 L618.46,1342.47 L619.86,1342.47 L621.26,1342.47 L622.66,1342.47 L624.07,1342.47 L625.47,1342.47 L626.87,1342.47 L628.27,1342.47 L629.67,1342.47 L631.07,1342.47 L632.47,1342.47 L633.87,1342.47 L635.27,1342.47 L636.67,1342.47 L638.07,1342.47 L639.47,1342.47 L640.88,1342.47 L642.28,1342.47 L643.68,1342.47 L645.08,1342.47 L646.48,1342.47 L647.88,1342.47 L649.28,1342.47 L650.68,1342.47 L652.08,1342.47 L653.48,1342.47 L654.88,1342.47 L655.35,1342.47 L656.28,1342.53 L657.68,1342.82 L659.09,1343.36 L660.49,1344.14 L661.89,1345.17 L663.29,1346.44 L664.69,1347.94 L666.09,1349.66 L667.49,1351.60 L668.89,1353.75 L670.29,1356.10 L671.69,1358.64 L673.09,1361.36 L674.49,1364.24 L675.89,1367.28 L677.30,1370.45 L678.70,1373.75 L680.10,1377.16 L681.50,1380.67 L682.90,1384.25 L684.30,1387.89 L685.70,1391.58 L687.10,1395.30 L688.50,1399.03 L689.90,1402.76 L691.30,1406.45 L692.70,1410.11 L694.11,1413.71 L695.51,1417.23 L696.91,1420.66 L698.31,1423.97 L699.71,1427.16 L701.11,1430.20 L702.51,1433.08 L703.91,1435.77 L705.31,1438.28 L706.71,1440.56 L708.11,1442.62 L709.51,1444.44 L710.91,1445.99 L712.32,1447.25 L713.72,1448.21 L715.12,1448.82 L716.31,1449.02 L716.52,1449.02 L717.92,1448.77 L719.32,1448.13 L720.72,1447.12 L722.12,1445.73 L723.52,1443.99 L724.92,1441.90 L726.32,1439.48 L727.72,1436.76 L729.12,1433.74 L730.53,1430.46 L731.93,1426.93 L733.33,1423.17 L734.73,1419.22 L736.13,1415.09 L737.53,1410.81 L738.93,1406.39 L740.33,1401.87 L741.73,1397.26 L743.13,1392.59 L744.53,1387.88 L745.93,1383.13 L747.33,1378.39 L748.74,1373.65 L750.14,1368.94 L751.54,1364.28 L752.94,1359.68 L754.34,1355.16 L755.74,1350.73 L757.14,1346.40 L758.54,1342.18 L759.94,1338.09 L761.34,1334.14 L762.74,1330.34 L764.14,1326.70 L765.55,1323.22 L766.95,1319.92 L768.35,1316.80 L769.75,1313.88 L771.15,1311.15 L772.55,1308.62 L773.95,1306.30 L775.35,1304.20 L776.75,1302.31 L778.15,1300.65 L779.55,1299.21 L780.95,1298.01 L782.35,1297.03 L783.76,1296.29 L785.16,1295.78 L786.56,1295.51 L787.96,1295.48 L789.36,1295.68 L790.76,1296.12 L792.16,1296.79 L793.56,1297.70 L794.96,1298.84 L796.36,1300.21 L797.76,1301.80 L799.16,1303.62 L800.56,1305.66 L801.97,1307.92 L803.37,1310.38 L804.77,1313.05 L806.17,1315.92 L807.57,1318.99 L808.97,1322.23 L810.37,1325.66 L811.77,1329.26 L813.17,1333.01 L814.57,1336.92 L815.97,1340.97 L817.37,1345.15 L818.77,1349.45 L820.18,1353.85 L821.58,1358.35 L822.98,1362.93 L824.38,1367.57 L825.78,1372.27 L827.18,1377.00 L828.58,1381.74 L829.98,1386.49 L831.38,1391.21 L832.78,1395.90 L834.18,1400.53 L835.58,1405.08 L836.99,1409.53 L838.39,1413.85 L839.79,1418.03 L841.19,1422.03 L842.59,1425.85 L843.99,1429.45 L845.39,1432.81 L846.79,1435.90 L848.19,1438.72 L849.59,1441.23 L850.99,1443.41 L852.39,1445.26 L853.79,1446.75 L855.20,1447.87 L856.60,1448.62 L858.00,1448.98 L859.40,1448.96 L860.80,1448.55 L862.20,1447.76 L863.60,1446.60 L865.00,1445.07 L866.40,1443.18 L867.80,1440.96 L869.20,1438.41 L870.60,1435.57 L872.00,1432.44 L873.41,1429.05 L874.81,1425.43 L876.21,1421.59 L877.61,1417.56 L879.01,1413.37 L880.41,1409.03 L881.81,1404.57 L883.21,1400.01 L884.61,1395.37 L886.01,1390.68 L887.41,1385.95 L888.81,1381.20 L890.22,1376.46 L891.62,1371.73 L893.02,1367.04 L894.42,1362.41 L895.82,1357.84 L897.22,1353.35 L898.62,1348.95 L900.02,1344.67 L901.42,1340.50 L902.82,1336.47 L904.22,1332.58 L905.62,1328.84 L907.02,1325.26 L908.43,1321.86 L909.83,1318.63 L911.23,1315.59 L912.63,1312.74 L914.03,1310.09 L915.43,1307.65 L916.83,1305.42 L918.23,1303.41 L919.63,1301.61 L921.03,1300.04 L922.43,1298.70 L923.83,1297.58 L925.23,1296.70 L926.64,1296.05 L928.04,1295.64 L929.44,1295.47 L930.84,1295.53 L932.24,1295.83 L933.17,1296.16 L933.64,1296.08 L935.04,1296.11 L936.44,1296.01 L937.84,1295.78 L939.24,1295.43 L940.64,1294.95 L942.04,1294.35 L943.44,1293.62 L944.85,1292.77 L946.25,1291.79 L947.65,1290.70 L949.05,1289.48 L950.45,1288.14 L951.85,1286.69 L953.25,1285.11 L954.65,1283.43 L956.05,1281.63 L957.45,1279.71 L958.85,1277.69 L960.25,1275.56 L961.66,1273.32 L963.06,1270.98 L964.46,1268.54 L965.86,1266.00 L967.26,1263.36 L968.66,1260.63 L970.06,1257.80 L971.46,1254.88 L972.86,1251.87 L974.26,1248.77 L975.66,1245.60 L977.06,1242.33 L978.46,1238.99 L979.87,1235.58 L981.27,1232.08 L982.67,1228.51 L984.07,1224.88 L985.47,1221.17 L986.87,1217.40 L988.27,1213.56 L989.67,1209.66 L991.07,1205.70 L992.47,1201.68 L993.87,1197.61 L995.27,1193.48 L996.67,1189.30 L998.08,1185.07 L999.48,1180.79 L1000.88,1176.46 L1002.28,1172.09 L1003.68,1167.67 L1005.08,1163.21 L1006.48,1158.72 L1007.88,1154.18 L1009.28,1149.61 L1010.68,1145.01 L1012.08,1140.37 L1013.48,1135.70 L1014.89,1131.00 L1016.29,1126.27 L1017.69,1121.51 L1019.09,1116.72 L1020.49,1111.92 L1021.89,1107.08 L1023.29,1102.23 L1024.69,1097.35 L1026.09,1092.46 L1027.49,1087.54 L1028.89,1082.61 L1030.29,1077.67 L1031.69,1072.70 L1033.10,1067.73 L1034.50,1062.74 L1035.90,1057.74 L1037.30,1052.72 L1038.70,1047.70 L1040.10,1042.67 L1041.50,1037.63 L1042.90,1032.58 L1044.30,1027.53 L1045.70,1022.47 L1047.10,1017.41 L1048.50,1012.34 L1049.90,1007.27 L1051.31,1002.20 L1052.71,997.13 L1054.11,992.06 L1055.51,986.98 L1056.91,981.91 L1058.31,976.84 L1059.71,971.77 L1061.11,966.71 L1062.51,961.65 L1063.91,956.59 L1065.31,951.54 L1066.71,946.49 L1068.11,941.45 L1069.52,936.42 L1070.92,931.40 L1072.32,926.38 L1073.72,921.37 L1075.12,916.37 L1076.52,911.38 L1077.92,906.40 L1079.32,901.43 L1080.72,896.48 L1082.12,891.53 L1083.52,886.60 L1084.92,881.68 L1086.33,876.78 L1087.73,871.88 L1089.13,867.00 L1090.53,862.14 L1091.93,857.29 L1093.33,852.46 L1094.73,847.65 L1096.13,842.85 L1097.53,838.06 L1098.93,833.30 L1100.33,828.55 L1101.73,823.82 L1103.13,819.11 L1104.54,814.42 L1105.94,809.75 L1107.34,805.09 L1108.74,800.46 L1110.14,795.85 L1111.54,791.26 L1112.94,786.69 L1114.34,782.14 L1115.74,777.61 L1117.14,773.11 L1118.54,768.63 L1119.94,764.17 L1121.34,759.73 L1122.75,755.32 L1124.15,750.93 L1125.55,746.57 L1126.95,742.23 L1128.35,737.91 L1129.75,733.62 L1131.15,729.36 L1132.55,725.12 L1133.95,720.90 L1135.35,716.72 L1136.75,712.56 L1138.15,708.42 L1139.55,704.31 L1140.96,700.24 L1142.36,696.18 L1143.76,692.16 L1145.16,688.16 L1146.56,684.19 L1147.96,680.26 L1149.36,676.34 L1150.76,672.46 L1152.16,668.61 L1153.56,664.79 L1154.96,660.99 L1156.36,657.23 L1157.77,653.50 L1159.17,649.80 L1160.57,646.12 L1161.97,642.48 L1163.37,638.87 L1164.77,635.29 L1166.17,631.75 L1167.57,628.23 L1168.97,624.75 L1170.37,621.30 L1171.77,617.88 L1173.17,614.49 L1174.57,611.14 L1175.98,607.81 L1177.38,604.53 L1178.78,601.27 L1180.18,598.05 L1181.58,594.86 L1182.98,591.71 L1184.38,588.59 L1185.78,585.50 L1187.18,582.45 L1188.58,579.43 L1189.98,576.45 L1191.38,573.50 L1192.78,570.58 L1194.19,567.71 L1195.59,564.86 L1196.99,562.06 L1198.39,559.28 L1199.79,556.55 L1201.19,553.85 L1202.59,551.18 L1203.99,548.55 L1205.39,545.96 L1206.79,543.40 L1208.19,540.88 L1209.59,538.40 L1210.99,535.96 L1212.40,533.55 L1213.80,531.17 L1215.20,528.84 L1216.60,526.54 L1218.00,524.28 L1219.40,522.06 L1220.80,519.87 L1222.20,517.72 L1223.60,515.61 L1225.00,513.54 L1226.40,511.51 L1227.80,509.51 L1229.21,507.55 L1230.61,505.63 L1232.01,503.75 L1233.41,501.91 L1234.81,500.11 L1236.21,498.34 L1237.61,496.62 L1239.01,494.93 L1240.41,493.28 L1241.81,491.67 L1243.21,490.10 L1244.61,488.57 L1246.01,487.08 L1247.42,485.62 L1248.82,484.21 L1250.22,482.84 L1251.62,481.50 L1253.02,480.21 L1254.42,478.95 L1255.82,477.74 L1257.22,476.56 L1258.62,475.43 L1260.02,474.33 L1261.42,473.28 L1262.82,472.26 L1264.22,471.29 L1265.63,470.35 L1267.03,469.46 L1268.43,468.60 L1269.83,467.79 L1271.23,467.01 L1272.63,466.28 L1274.03,465.58 L1275.43,464.93 L1276.83,464.32 L1278.23,463.75 L1279.63,463.21 L1281.03,462.72 L1282.44,462.27 L1283.84,461.86 L1285.24,461.49 L1286.64,461.16 L1288.04,460.87 L1289.44,460.63 L1290.84,460.42 L1292.24,460.25 L1293.64,460.13 L1295.04,460.04 L1296.44,460.00 L1297.84,459.99 L1299.24,460.03 L1300.65,460.11 L1302.05,460.22 L1303.45,460.38 L1304.85,460.58 L1306.25,460.82 L1307.65,461.10 L1309.05,461.42 L1310.45,461.78 L1311.85,462.19 L1313.25,462.63 L1314.65,463.11 L1316.05,463.64 L1317.45,464.20 L1318.86,464.81 L1320.26,465.45 L1321.66,466.14 L1323.06,466.86 L1324.46,467.63 L1325.86,468.44 L1327.26,469.28 L1328.66,470.17 L1330.06,471.10 L1331.46,472.06 L1332.86,473.07 L1334.26,474.12 L1335.66,475.21 L1337.07,476.33 L1338.47,477.50 L1339.87,478.71 L1341.27,479.95 L1342.67,481.24 L1344.07,482.57 L1345.47,483.93 L1346.87,485.34 L1348.27,486.78 L1349.67,488.27 L1351.07,489.79 L1352.47,491.35 L1353.88,492.95 L1355.28,494.60 L1356.68,496.28 L1358.08,497.99 L1359.48,499.75 L1360.88,501.55 L1362.28,503.38 L1363.68,505.26 L1365.08,507.17 L1366.48,509.12 L1367.88,511.11 L1369.28,513.13 L1370.68,515.20 L1372.09,517.30 L1373.49,519.44 L1374.89,521.62 L1376.29,523.83 L1377.69,526.09 L1379.09,528.38 L1380.49,530.70 L1381.89,533.07 L1383.29,535.47 L1384.69,537.91 L1386.09,540.38 L1387.49,542.90 L1388.89,545.45 L1390.30,548.03 L1391.70,550.65 L1393.10,553.31 L1394.50,556.00 L1395.90,558.73 L1397.30,561.50 L1398.70,564.30 L1400.10,567.14 L1401.50,570.01 L1402.90,572.91 L1404.30,575.85 L1405.70,578.83 L1407.10,581.84 L1408.51,584.89 L1409.91,587.97 L1411.31,591.08 L1412.71,594.23 L1414.11,597.41 L1415.51,600.62 L1416.91,603.87 L1418.31,607.15 L1419.71,610.47 L1421.11,613.82 L1422.51,617.20 L1423.91,620.61 L1425.32,624.05 L1426.72,627.53 L1428.12,631.04 L1429.52,634.58 L1430.92,638.15 L1432.32,641.76 L1433.72,645.39 L1435.12,649.06 L1436.52,652.76 L1437.92,656.48 L1439.32,660.24 L1440.72,664.03 L1442.12,667.84 L1443.53,671.69 L1444.93,675.57 L1446.33,679.47 L1447.73,683.40 L1449.13,687.37 L1450.53,691.36 L1451.93,695.38 L1453.33,699.42 L1454.73,703.50 L1456.13,707.60 L1457.53,711.73 L1458.93,715.88 L1460.33,720.06 L1461.74,724.27 L1463.14,728.51 L1464.54,732.77 L1465.94,737.05 L1467.34,741.36 L1468.74,745.70 L1470.14,750.06 L1471.54,754.44 L1472.94,758.85 L1474.34,763.28 L1475.74,767.73 L1477.14,772.21 L1478.55,776.71 L1479.95,781.23 L1481.35,785.78 L1482.75,790.34 L1484.15,794.93 L1485.55,799.54 L1486.95,804.17 L1488.35,808.81 L1489.75,813.48 L1491.15,818.17 L1492.55,822.88 L1493.95,827.60 L1495.35,832.35 L1496.76,837.11 L1498.16,841.89 L1499.56,846.68 L1500.96,851.50 L1502.36,856.33 L1503.76,861.17 L1505.16,866.03 L1506.56,870.91 L1507.96,875.80 L1509.36,880.70 L1510.76,885.62 L1512.16,890.55 L1513.56,895.49 L1514.97,900.44 L1516.37,905.41 L1517.77,910.38 L1519.17,915.37 L1520.57,920.37 L1521.97,925.38 L1523.37,930.39 L1524.77,935.41 L1526.17,940.45 L1527.57,945.48 L1528.97,950.53 L1530.37,955.58 L1531.77,960.63 L1533.18,965.70 L1534.58,970.76 L1535.98,975.83 L1537.38,980.90 L1538.78,985.97 L1540.18,991.04 L1541.58,996.11 L1542.98,1001.19 L1544.38,1006.26 L1545.78,1011.33 L1547.18,1016.40 L1548.58,1021.46 L1549.99,1026.52 L1551.39,1031.57 L1552.79,1036.62 L1554.19,1041.66 L1555.59,1046.69 L1556.99,1051.72 L1558.39,1056.73 L1559.79,1061.74 L1561.19,1066.73 L1562.59,1071.71 L1563.99,1076.67 L1565.39,1081.62 L1566.79,1086.56 L1568.20,1091.48 L1569.60,1096.38 L1571.00,1101.26 L1572.40,1106.11 L1573.80,1110.95 L1575.20,1115.76 L1576.60,1120.55 L1578.00,1125.32 L1579.40,1130.05 L1580.80,1134.76 L1582.20,1139.44 L1583.60,1144.08 L1585.00,1148.69 L1586.41,1153.27 L1587.81,1157.81 L1589.21,1162.32 L1590.61,1166.78 L1592.01,1171.21 L1593.41,1175.59 L1594.81,1179.92 L1596.21,1184.21 L1597.61,1188.45 L1599.01,1192.65 L1600.41,1196.79 L1601.81,1200.87 L1603.21,1204.90 L1604.62,1208.87 L1606.02,1212.79 L1607.42,1216.64 L1608.82,1220.42 L1610.22,1224.14 L1611.62,1227.79 L1613.02,1231.37 L1614.42,1234.88 L1615.82,1238.32 L1617.22,1241.67 L1618.62,1244.95 L1620.02,1248.15 L1621.43,1251.26 L1622.83,1254.28 L1624.23,1257.22 L1625.63,1260.07 L1627.03,1262.82 L1628.43,1265.48 L1629.83,1268.04 L1631.23,1270.50 L1632.63,1272.86 L1634.03,1275.12 L1635.43,1277.27 L1636.83,1279.32 L1638.23,1281.25 L1639.64,1283.07 L1641.04,1284.78 L1642.44,1286.38 L1643.84,1287.86 L1645.24,1289.22 L1646.64,1290.46 L1648.04,1291.58 L1649.44,1292.58 L1650.84,1293.46 L1652.24,1294.21 L1653.64,1294.84 L1655.04,1295.34 L1656.44,1295.72 L1657.85,1295.97 L1659.25,1296.10 L1660.65,1296.09 L1662.05,1295.97 L1663.45,1295.71 L1664.85,1295.33 L1666.25,1294.82 L1667.65,1294.19 L1669.05,1293.43 L1670.45,1292.55 L1671.85,1291.55 L1673.25,1290.42 L1674.66,1289.18 L1676.06,1287.81 L1677.46,1286.33 L1678.86,1284.73 L1680.26,1283.02 L1681.66,1281.19 L1683.06,1279.25 L1684.46,1277.20 L1685.86,1275.05 L1687.26,1272.79 L1688.66,1270.42 L1690.06,1267.96 L1691.46,1265.39 L1692.87,1262.73 L1694.27,1259.97 L1695.67,1257.12 L1697.07,1254.18 L1698.47,1251.15 L1699.87,1248.04 L1701.27,1244.84 L1702.67,1241.56 L1704.07,1238.20 L1705.47,1234.77 L1706.87,1231.26 L1708.27,1227.67 L1709.67,1224.02 L1711.08,1220.30 L1712.48,1216.51 L1713.88,1212.66 L1715.28,1208.74 L1716.68,1204.77 L1718.08,1200.74 L1719.48,1196.65 L1720.88,1192.51 L1722.28,1188.31 L1723.68,1184.07 L1725.08,1179.78 L1726.48,1175.44 L1727.88,1171.06 L1729.29,1166.63 L1730.69,1162.17 L1732.09,1157.66 L1733.49,1153.12 L1734.89,1148.54 L1736.29,1143.93 L1737.69,1139.28 L1739.09,1134.60 L1740.49,1129.89 L1741.89,1125.16 L1743.29,1120.39 L1744.69,1115.60 L1746.10,1110.79 L1747.50,1105.95 L1748.90,1101.09 L1750.30,1096.21 L1751.70,1091.31 L1753.10,1086.40 L1754.50,1081.46 L1755.90,1076.51 L1757.30,1071.54 L1758.70,1066.56 L1760.10,1061.57 L1761.50,1056.57 L1762.90,1051.55 L1764.31,1046.53 L1765.71,1041.49 L1767.11,1036.45 L1768.51,1031.40 L1769.91,1026.35 L1771.31,1021.29 L1772.71,1016.23 L1774.11,1011.16 L1775.51,1006.09 L1776.91,1001.02 L1778.31,995.95 L1779.71,990.87 L1781.11,985.80 L1782.52,980.73 L1783.92,975.66 L1785.32,970.59 L1786.72,965.53 L1788.12,960.47 L1789.52,955.41 L1790.92,950.36 L1792.32,945.32 L1793.72,940.28 L1795.12,935.25 L1796.52,930.22 L1797.92,925.21 L1799.32,920.20 L1800.73,915.21 L1802.13,910.22 L1803.53,905.24 L1804.93,900.28 L1806.33,895.32 L1807.73,890.38 L1809.13,885.45 L1810.53,880.54 L1811.93,875.63 L1813.33,870.74 L1814.73,865.87 L1816.13,861.01 L1817.54,856.16 L1818.94,851.34 L1820.34,846.52 L1821.74,841.73 L1823.14,836.95 L1824.54,832.19 L1825.94,827.45 L1827.34,822.72 L1828.74,818.01 L1830.14,813.33 L1831.54,808.66 L1832.94,804.01 L1834.34,799.38 L1835.75,794.78 L1837.15,790.19 L1838.55,785.62 L1839.95,781.08 L1841.35,776.56 L1842.75,772.06 L1844.15,767.58 L1845.55,763.13 L1846.95,758.70 L1848.35,754.29 L1849.75,749.91 L1851.15,745.55 L1852.55,741.22 L1853.96,736.91 L1855.36,732.62 L1856.76,728.36 L1858.16,724.13 L1859.56,719.92 L1860.96,715.74 L1862.36,711.59 L1863.76,707.46 L1865.16,703.36 L1866.56,699.29 L1867.96,695.24 L1869.36,691.22 L1870.77,687.23 L1872.17,683.27 L1873.57,679.34 L1874.97,675.44 L1876.37,671.56 L1877.77,667.72 L1879.17,663.90 L1880.57,660.11 L1881.97,656.36 L1883.37,652.63 L1884.77,648.94 L1886.17,645.27 L1887.57,641.64 L1888.98,638.04 L1890.38,634.46 L1891.78,630.92 L1893.18,627.42 L1894.58,623.94 L1895.98,620.50 L1897.38,617.08 L1898.78,613.70 L1900.18,610.36 L1901.58,607.04 L1902.98,603.76 L1904.38,600.52 L1905.78,597.30 L1907.19,594.12 L1908.59,590.98 L1909.99,587.86 L1911.39,584.78 L1912.79,581.74 L1914.19,578.73 L1915.59,575.76 L1916.99,572.82 L1918.39,569.91 L1919.79,567.04 L1921.19,564.21 L1922.59,561.41 L1923.99,558.64 L1925.40,555.91 L1926.80,553.22 L1928.20,550.56 L1929.60,547.94 L1931.00,545.36 L1932.40,542.81 L1933.80,540.30 L1935.20,537.83 L1936.60,535.39 L1938.00,532.99 L1939.40,530.63 L1940.80,528.30 L1942.21,526.01 L1943.61,523.76 L1945.01,521.54 L1946.41,519.37 L1947.81,517.23 L1949.21,515.13 L1950.61,513.06 L1952.01,511.04 L1953.41,509.05 L1954.81,507.10 L1956.21,505.19 L1957.61,503.32 L1959.01,501.49 L1960.42,499.69 L1961.82,497.94 L1963.22,496.22 L1964.62,494.54 L1966.02,492.90 L1967.42,491.30 L1968.82,489.74 L1970.22,488.22 L1971.62,486.73 L1973.02,485.29 L1974.42,483.89 L1975.82,482.52 L1977.22,481.20 L1978.63,479.91 L1980.03,478.67 L1981.43,477.46 L1982.83,476.30 L1984.23,475.17 L1985.63,474.08 L1987.03,473.04 L1988.43,472.03 L1989.83,471.06 L1991.23,470.14 L1992.63,469.25 L1994.03,468.41 L1995.43,467.60 L1996.84,466.84 L1998.24,466.11 L1999.64,465.43 L2001.04,464.78 L2002.44,464.18 L2003.84,463.62 L2005.24,463.10 L2006.64,462.61 L2008.04,462.17 L2009.44,461.77 L2010.84,461.41 L2012.24,461.09 L2013.65,460.81 L2015.05,460.57 L2016.45,460.38 L2017.85,460.22 L2019.25,460.10 L2020.65,460.03 L2022.05,459.99 L2023.45,460.00 L2024.85,460.04 L2026.25,460.13 L2027.65,460.26 L2029.05,460.42 L2030.45,460.63 L2031.86,460.88 L2033.26,461.17 L2034.66,461.50 L2036.06,461.87 L2037.46,462.29 L2038.86,462.74 L2040.26,463.23 L2041.66,463.76 L2043.06,464.34 L2044.46,464.95 L2045.86,465.61 L2047.26,466.30 L2048.66,467.04 L2050.07,467.81 L2051.47,468.63 L2052.87,469.49 L2054.27,470.38 L2055.67,471.32 L2057.07,472.30 L2058.47,473.31 L2059.87,474.37 L2061.27,475.47 L2062.67,476.60 L2064.07,477.78 L2065.47,479.00 L2066.88,480.25 L2068.28,481.55 L2069.68,482.88 L2071.08,484.26 L2072.48,485.67 L2073.88,487.13 L2075.28,488.62 L2076.68,490.15 L2078.08,491.72 L2079.48,493.33 L2080.88,494.98 L2082.28,496.67 L2083.68,498.40 L2085.09,500.17 L2086.49,501.97 L2087.89,503.82 L2089.29,505.70 L2090.69,507.62 L2092.09,509.58 L2093.49,511.57 L2094.89,513.61 L2096.29,515.68 L2097.69,517.79 L2099.09,519.94 L2100.49,522.13 L2101.89,524.35 L2103.30,526.62 L2104.70,528.92 L2106.10,531.25 L2107.50,533.63 L2108.90,536.04 L2110.30,538.48 L2111.70,540.97 L2113.10,543.49 L2114.50,546.05 L2115.90,548.64 L2117.30,551.27 L2118.70,553.94 L2120.10,556.64 L2121.51,559.38 L2122.91,562.15 L2124.31,564.96 L2125.71,567.80 L2127.11,570.68 L2128.51,573.60 L2129.91,576.55 L2131.31,579.53 L2132.71,582.55 L2134.11,585.60 L2135.51,588.69 L2136.91,591.81 L2138.32,594.97 L2139.72,598.16 L2141.12,601.38 L2142.52,604.63 L2143.92,607.92 L2145.32,611.25 L2146.72,614.60 L2148.12,617.99 L2149.52,621.41 L2150.92,624.86 L2152.32,628.35 L2153.72,631.86 L2155.12,635.41 L2156.53,638.99 L2157.93,642.60 L2159.33,646.25 L2160.73,649.92 L2162.13,653.62 L2163.53,657.36 L2164.93,661.12 L2166.33,664.91 L2167.73,668.74 L2169.13,672.59 L2170.53,676.47 L2171.93,680.39 L2173.33,684.33 L2174.74,688.30 L2176.14,692.29 L2177.54,696.32 L2178.94,700.37 L2180.34,704.45 L2181.74,708.56 L2183.14,712.69 L2184.54,716.86 L2185.94,721.04 L2187.34,725.26 L2188.74,729.50 L2190.14,733.76 L2191.55,738.05 L2192.95,742.37 L2194.35,746.71 L2195.75,751.08 L2197.15,755.47 L2198.55,759.88 L2199.95,764.32 L2201.35,768.78 L2202.75,773.26 L2204.15,777.76 L2205.55,782.29 L2206.95,786.84 L2208.35,791.41 L2209.76,796.00 L2211.16,800.62 L2212.56,805.25 L2213.96,809.90 L2215.36,814.57 L2216.76,819.27 L2218.16,823.98 L2219.56,828.71 L2220.96,833.46 L2222.36,838.22 L2223.76,843.01 L2225.16,847.81 L2226.56,852.62 L2227.97,857.46 L2229.37,862.30 L2230.77,867.17 L2232.17,872.05 L2233.57,876.94 L2234.97,881.84 L2236.37,886.76 L2237.77,891.70 L2239.17,896.64 L2240.57,901.60 L2241.97,906.57 L2243.37,911.55 L2244.77,916.54 L2246.18,921.54 L2247.58,926.55 L2248.98,931.56 L2250.38,936.59 L2251.78,941.62 L2253.18,946.66 L2254.58,951.71 L2255.98,956.76 L2257.38,961.82 L2258.78,966.88 L2260.18,971.94 L2261.58,977.01 L2262.99,982.08 L2264.39,987.15 L2265.79,992.22 L2267.19,997.30 L2268.59,1002.37 L2269.99,1007.44 L2271.39,1012.51 L2272.79,1017.58 L2274.19,1022.64 L2275.59,1027.70 L2276.99,1032.75 L2278.39,1037.80 L2279.79,1042.84 L2281.20,1047.87 L2282.60,1052.89 L2284.00,1057.90 L2285.40,1062.90 L2286.80,1067.89 L2288.20,1072.87 L2289.60,1077.83"/>
</g>
<g fill="#000" stroke="none">
<rect x="378" y="100" width="5.8" height="903"/>
<path d="M380.9,73.6 L396.6,131.6 L380.9,114 L366.9,131.6 Z"/>
<rect x="1112.3" y="1646.2" width="370" height="7"/>
<path d="M1517,1649.7 L1456.3,1665.8 L1474,1649.7 L1456.3,1635.2 Z"/>
</g>
<g fill="none" stroke="#000" stroke-width="3.5" stroke-linejoin="bevel" shape-rendering="crispEdges">
<path d="M1228,182 H636.5 L893,435"/>
<path d="M1572.2,187.7 H2237.5 L2117,436.5"/>
</g>
<path fill="#000" d="M920.8,462.4 L898.7,426.1 L884.1,441 Z"/>
<path fill="#000" d="M2102.3,468.8 L2112.7,417.9 L2117.6,436 L2133.9,429 Z"/>
<rect x="1620" y="1440" width="428" height="4" fill="#ff0000"/>
<path fill="#ff0000" d="M1583.1,1442 L1623.8,1431.6 L1623.8,1452.6 Z"/>
<g>
<text transform="translate(127.8,1713.3) scale(0.98,1)" font-size="88" fill="#000" stroke="#000" stroke-width="2.29" stroke-linejoin="round">0.00</text>
<text transform="translate(128.05,1509.96) scale(0.98,1)" font-size="88" fill="#000" stroke="#000" stroke-width="2.29" stroke-linejoin="round">0.25</text>
<text transform="translate(127.8,1306.63) scale(0.98,1)" font-size="88" fill="#000" stroke="#000" stroke-width="2.29" stroke-linejoin="round">0.50</text>
<text transform="translate(128.05,1103.29) scale(0.98,1)" font-size="88" fill="#000" stroke="#000" stroke-width="2.29" stroke-linejoin="round">0.75</text>
<clipPath id="cy4"><path d="M-128.91,-8.32 L386.72,-8.32 L386.72,-128.91 L-128.91,-128.91ZM20.98,25.78 L31.05,25.78 L31.05,-8.32 L20.98,-8.32ZM47.51,25.78 L386.72,25.78 L386.72,-8.32 L47.51,-8.32Z"/></clipPath><text transform="translate(127.8,899.95) scale(0.98,1)" font-size="88" fill="#000" stroke="#000" stroke-width="2.29" stroke-linejoin="round" clip-path="url(#cy4)">1.00</text>
<clipPath id="cy5"><path d="M-128.91,-8.32 L386.72,-8.32 L386.72,-128.91 L-128.91,-128.91ZM20.98,25.78 L31.05,25.78 L31.05,-8.32 L20.98,-8.32ZM47.51,25.78 L386.72,25.78 L386.72,-8.32 L47.51,-8.32Z"/></clipPath><text transform="translate(128.05,696.61) scale(0.98,1)" font-size="88" fill="#000" stroke="#000" stroke-width="2.29" stroke-linejoin="round" clip-path="url(#cy5)">1.25</text>
<clipPath id="cy6"><path d="M-128.91,-8.32 L386.72,-8.32 L386.72,-128.91 L-128.91,-128.91ZM20.98,25.78 L31.05,25.78 L31.05,-8.32 L20.98,-8.32ZM47.51,25.78 L386.72,25.78 L386.72,-8.32 L47.51,-8.32Z"/></clipPath><text transform="translate(127.8,493.27) scale(0.98,1)" font-size="88" fill="#000" stroke="#000" stroke-width="2.29" stroke-linejoin="round" clip-path="url(#cy6)">1.50</text>
<clipPath id="cy7"><path d="M-128.91,-8.32 L386.72,-8.32 L386.72,-128.91 L-128.91,-128.91ZM20.98,25.78 L31.05,25.78 L31.05,-8.32 L20.98,-8.32ZM47.51,25.78 L386.72,25.78 L386.72,-8.32 L47.51,-8.32Z"/></clipPath><text transform="translate(128.05,289.94) scale(0.98,1)" font-size="88" fill="#000" stroke="#000" stroke-width="2.29" stroke-linejoin="round" clip-path="url(#cy7)">1.75</text>
<text transform="translate(127.8,86.6) scale(0.98,1)" font-size="88" fill="#000" stroke="#000" stroke-width="2.29" stroke-linejoin="round">2.00</text>
<text transform="translate(280.85,1786) scale(0.98,1)" font-size="88" fill="#000" stroke="#000" stroke-width="2.29" stroke-linejoin="round">−2</text>
<clipPath id="cxm1"><path d="M-128.91,-8.32 L386.72,-8.32 L386.72,-128.91 L-128.91,-128.91ZM72.38,25.78 L82.44,25.78 L82.44,-8.32 L72.38,-8.32ZM98.9,25.78 L386.72,25.78 L386.72,-8.32 L98.9,-8.32ZM-128.91,25.78 L55.23,25.78 L55.23,-8.32 L-128.91,-8.32Z"/></clipPath><text transform="translate(445,1786) scale(0.98,1)" font-size="88" fill="#000" stroke="#000" stroke-width="2.29" stroke-linejoin="round" clip-path="url(#cxm1)">−1</text>
<text transform="translate(631.4,1786) scale(0.98,1)" font-size="88" fill="#000" stroke="#000" stroke-width="2.29" stroke-linejoin="round">0</text>
<clipPath id="cx1"><path d="M-128.91,-8.32 L386.72,-8.32 L386.72,-128.91 L-128.91,-128.91ZM20.98,25.78 L31.05,25.78 L31.05,-8.32 L20.98,-8.32ZM47.51,25.78 L386.72,25.78 L386.72,-8.32 L47.51,-8.32Z"/></clipPath><text transform="translate(794.82,1786) scale(0.98,1)" font-size="88" fill="#000" stroke="#000" stroke-width="2.29" stroke-linejoin="round" clip-path="url(#cx1)">1</text>
<text transform="translate(958.17,1786) scale(0.98,1)" font-size="88" fill="#000" stroke="#000" stroke-width="2.29" stroke-linejoin="round">2</text>
<text transform="translate(1121.88,1786) scale(0.98,1)" font-size="88" fill="#000" stroke="#000" stroke-width="2.29" stroke-linejoin="round">3</text>
<text transform="translate(1285.32,1786) scale(0.98,1)" font-size="88" fill="#000" stroke="#000" stroke-width="2.29" stroke-linejoin="round">4</text>
<text transform="translate(1448.52,1786) scale(0.98,1)" font-size="88" fill="#000" stroke="#000" stroke-width="2.29" stroke-linejoin="round">5</text>
<text transform="translate(1611.6,1786) scale(0.98,1)" font-size="88" fill="#000" stroke="#000" stroke-width="2.29" stroke-linejoin="round">6</text>
<text transform="translate(1775.3,1786) scale(0.98,1)" font-size="88" fill="#000" stroke="#000" stroke-width="2.29" stroke-linejoin="round">7</text>
<text transform="translate(1938.75,1786) scale(0.98,1)" font-size="88" fill="#000" stroke="#000" stroke-width="2.29" stroke-linejoin="round">8</text>
<text transform="translate(2102.2,1786) scale(0.98,1)" font-size="88" fill="#000" stroke="#000" stroke-width="2.29" stroke-linejoin="round">9</text>
<clipPath id="cx10"><path d="M-128.91,-8.32 L386.72,-8.32 L386.72,-128.91 L-128.91,-128.91ZM20.98,25.78 L31.05,25.78 L31.05,-8.32 L20.98,-8.32ZM47.51,25.78 L386.72,25.78 L386.72,-8.32 L47.51,-8.32Z"/></clipPath><text transform="translate(2240.45,1786) scale(0.98,1)" font-size="88" fill="#000" stroke="#000" stroke-width="2.29" stroke-linejoin="round" clip-path="url(#cx10)">10</text>
</g>
<g><text transform="translate(14.47,96.97) scale(0.9648,1)" font-size="99.65" fill="#000" stroke="#fff" stroke-width="2.79" stroke-linejoin="round" paint-order="fill stroke">(</text><text transform="translate(43.35,97.37) scale(0.96,1)" font-size="93.82" fill="#000" stroke="#fff" stroke-width="2.63" stroke-linejoin="round" paint-order="fill stroke">b</text><text transform="translate(90.33,96.97) scale(0.974,1)" font-size="99.65" fill="#000" stroke="#fff" stroke-width="2.79" stroke-linejoin="round" paint-order="fill stroke">)</text></g>
<g><text transform="translate(482.85,968.25) rotate(-90) scale(0.925,1)" font-size="100.68" fill="#000" stroke="#fff" stroke-width="2.82" stroke-linejoin="round" paint-order="fill stroke">Electric</text><text transform="translate(482.85,639.55) rotate(-90) scale(0.9496,1)" font-size="100.68" fill="#000" stroke="#fff" stroke-width="2.82" stroke-linejoin="round" paint-order="fill stroke"> field</text><text transform="translate(482.85,442.38) rotate(-90) scale(0.9526,1)" font-size="100.68" fill="#000" stroke="#fff" stroke-width="2.82" stroke-linejoin="round" paint-order="fill stroke"> modulus</text></g>
<g><text transform="translate(618.85,163.3) scale(0.9269,1)" font-size="79.2" fill="#00c46b" stroke="#fff" stroke-width="2.06" stroke-linejoin="round" paint-order="fill stroke" font-style="italic">semiconductor</text><text transform="translate(1112.22,162.75) scale(0.9208,1)" font-size="78.17" fill="#00c46b" stroke="#fff" stroke-width="2.03" stroke-linejoin="round" paint-order="fill stroke" font-style="italic"> only</text></g>
<g><text transform="translate(1581.67,163.4) scale(0.9148,1)" font-size="79.06" fill="#005f9e" stroke="#fff" stroke-width="2.06" stroke-linejoin="round" paint-order="fill stroke" font-style="italic">semicond.</text><text transform="translate(1908.38,164.82) scale(0.941,1)" font-size="80.93" fill="#005f9e" stroke="#fff" stroke-width="2.1" stroke-linejoin="round" paint-order="fill stroke" font-style="italic">+</text><text transform="translate(1951,163.4) scale(0.9208,1)" font-size="79.06" fill="#005f9e" stroke="#fff" stroke-width="2.06" stroke-linejoin="round" paint-order="fill stroke" font-style="italic">dielectric</text></g>
<g><text transform="translate(1606.5,1425.08) scale(0.9135,1)" font-size="78.99" fill="#ff0000" stroke="#fff" stroke-width="2.05" stroke-linejoin="round" paint-order="fill stroke" font-style="italic">incident</text><text transform="translate(1875.47,1425.02) scale(0.9236,1)" font-size="76.75" fill="#ff0000" stroke="#fff" stroke-width="2" stroke-linejoin="round" paint-order="fill stroke" font-style="italic"> wave</text></g>
<g><text transform="translate(1217.45,1621.4) scale(1.0359,1)" font-size="92.3" fill="#000" stroke="#fff" stroke-width="2.58" stroke-linejoin="round" paint-order="fill stroke">z</text><text transform="translate(1255.67,1620.45)" font-size="92.47" fill="#000" stroke="#fff" stroke-width="1.85" stroke-linejoin="round" paint-order="fill stroke">,</text><text transform="translate(1298.4,1621.4) scale(0.9828,1)" font-size="92.23" fill="#000" stroke="#fff" stroke-width="2.58" stroke-linejoin="round" paint-order="fill stroke" font-style="italic"> cm</text></g>
<text transform="translate(812.4,1153.08) scale(0.9215,1)" font-size="75.37" fill="#ff0000" stroke="#fff" stroke-width="0.98" stroke-linejoin="round" paint-order="fill stroke" font-style="italic">a</text>
<text transform="translate(848.48,1640.1) rotate(-90) scale(0.8753,1)" font-size="79.79" fill="#ff0000" stroke="#fff" stroke-width="2.07" stroke-linejoin="round" paint-order="fill stroke" font-style="italic">diel.</text>
</svg>
</body></html>
